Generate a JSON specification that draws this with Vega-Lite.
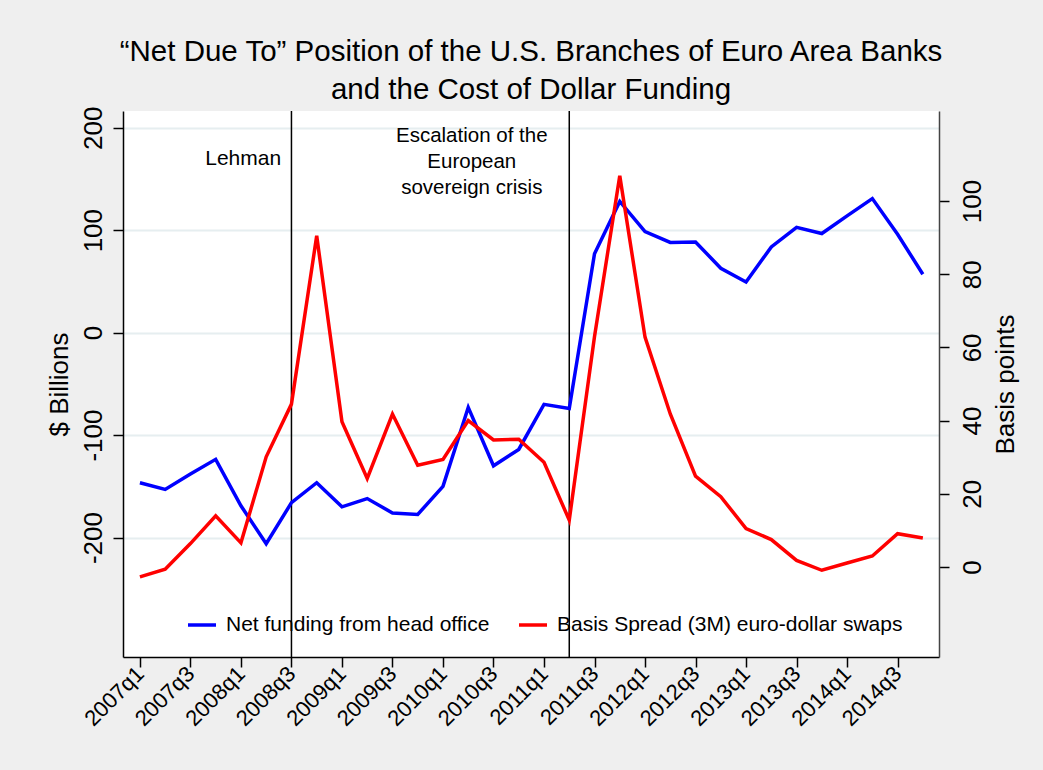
{
  "$schema": "https://vega.github.io/schema/vega-lite/v6.json",
  "autosize": {"type": "none"},
  "padding": {"left": 123, "top": 111, "right": 104, "bottom": 113},
  "width": 816,
  "height": 546,
  "background": "#efefef",
  "title": {
    "text": ["“Net Due To” Position of the U.S. Branches of Euro Area Banks", "and the Cost of Dollar Funding"],
    "anchor": "middle",
    "fontSize": 29.5,
    "fontWeight": "normal",
    "font": "Liberation Sans",
    "color": "#000000",
    "lineHeight": 38,
    "offset": 1
  },
  "config": {
    "view": {"fill": "#ffffff", "stroke": null},
    "font": "Liberation Sans",
    "axis": {
      "labelFont": "Liberation Sans",
      "titleFont": "Liberation Sans",
      "labelColor": "#000000",
      "titleColor": "#000000",
      "titleFontWeight": "normal",
      "tickColor": "#000000",
      "domainColor": "#000000",
      "tickSize": 10,
      "tickWidth": 1.5,
      "domainWidth": 1.5
    },
    "legend": {"labelFont": "Liberation Sans"}
  },
  "datasets": {
    "series": [
      {"quarter": "2007q1", "t": 0, "net": -146.5, "bp": -2.7},
      {"quarter": "2007q2", "t": 1, "net": -153, "bp": -0.6},
      {"quarter": "2007q3", "t": 2, "net": -138, "bp": 6.4},
      {"quarter": "2007q4", "t": 3, "net": -123.7, "bp": 14},
      {"quarter": "2008q1", "t": 4, "net": -169, "bp": 6.6},
      {"quarter": "2008q2", "t": 5, "net": -206, "bp": 30.1},
      {"quarter": "2008q3", "t": 6, "net": -166, "bp": 44.5},
      {"quarter": "2008q4", "t": 7, "net": -146.5, "bp": 90.5},
      {"quarter": "2009q1", "t": 8, "net": -170, "bp": 39.7},
      {"quarter": "2009q2", "t": 9, "net": -162, "bp": 24.2},
      {"quarter": "2009q3", "t": 10, "net": -176, "bp": 41.8},
      {"quarter": "2009q4", "t": 11, "net": -177.5, "bp": 27.8},
      {"quarter": "2010q1", "t": 12, "net": -150, "bp": 29.4},
      {"quarter": "2010q2", "t": 13, "net": -73, "bp": 40},
      {"quarter": "2010q3", "t": 14, "net": -130, "bp": 34.7},
      {"quarter": "2010q4", "t": 15, "net": -114, "bp": 34.9},
      {"quarter": "2011q1", "t": 16, "net": -70, "bp": 28.6},
      {"quarter": "2011q2", "t": 17, "net": -74, "bp": 12.8},
      {"quarter": "2011q3", "t": 18, "net": 77, "bp": 63},
      {"quarter": "2011q4", "t": 19, "net": 128, "bp": 106.9},
      {"quarter": "2012q1", "t": 20, "net": 98.6, "bp": 62.8},
      {"quarter": "2012q2", "t": 21, "net": 88, "bp": 41.8},
      {"quarter": "2012q3", "t": 22, "net": 88.5, "bp": 24.8},
      {"quarter": "2012q4", "t": 23, "net": 62.8, "bp": 19.2},
      {"quarter": "2013q1", "t": 24, "net": 49.4, "bp": 10.5},
      {"quarter": "2013q2", "t": 25, "net": 83.6, "bp": 7.5},
      {"quarter": "2013q3", "t": 26, "net": 102.8, "bp": 1.8},
      {"quarter": "2013q4", "t": 27, "net": 96.7, "bp": -0.9},
      {"quarter": "2014q1", "t": 28, "net": 113.9, "bp": 1.1},
      {"quarter": "2014q2", "t": 29, "net": 130.8, "bp": 3},
      {"quarter": "2014q3", "t": 30, "net": 96, "bp": 9.1},
      {"quarter": "2014q4", "t": 31, "net": 57, "bp": 7.9}
    ],
    "events": [
      {"quarter": "2008q3", "t": 6},
      {"quarter": "2011q2", "t": 17}
    ],
    "notes": [
      {"t": 5.59, "net": 163.4, "label": ["Lehman"], "align": "right"},
      {"t": 13.14, "net": 185.8, "label": ["Escalation of the", "European", "sovereign crisis"], "align": "center"}
    ]
  },
  "layer": [
    {
      "layer": [
        {
          "data": {"name": "events"},
          "mark": {"type": "rule", "color": "#000000", "strokeWidth": 1.5},
          "encoding": {
            "x": {"field": "t", "type": "quantitative", "scale": {"domain": [-0.67, 31.64], "nice": false, "zero": false}}
          }
        },
        {
          "data": {"name": "notes"},
          "transform": [{"filter": "datum.align == 'right'"}],
          "mark": {"type": "text", "align": "right", "baseline": "alphabetic", "fontSize": 21, "font": "Liberation Sans", "color": "#000000"},
          "encoding": {
            "x": {"field": "t", "type": "quantitative", "scale": {"domain": [-0.67, 31.64], "nice": false, "zero": false}},
            "y": {"field": "net", "type": "quantitative", "scale": {"domain": [-316.6, 216.3], "nice": false, "zero": false}, "title": "$ Billions"},
            "text": {"field": "label"}
          }
        },
        {
          "data": {"name": "notes"},
          "transform": [{"filter": "datum.align == 'center'"}],
          "mark": {"type": "text", "align": "center", "baseline": "alphabetic", "fontSize": 20.5, "lineHeight": 26, "font": "Liberation Sans", "color": "#000000"},
          "encoding": {
            "x": {"field": "t", "type": "quantitative", "scale": {"domain": [-0.67, 31.64], "nice": false, "zero": false}},
            "y": {"field": "net", "type": "quantitative", "scale": {"domain": [-316.6, 216.3], "nice": false, "zero": false}, "title": "$ Billions"},
            "text": {"field": "label"}
          }
        },
        {
          "data": {"name": "series"},
          "mark": {"type": "line", "strokeWidth": 3.5},
          "encoding": {
            "x": {
              "field": "t", "type": "quantitative",
              "scale": {"domain": [-0.67, 31.64], "nice": false, "zero": false},
              "axis": {
                "title": null,
                "values": [0, 2, 4, 6, 8, 10, 12, 14, 16, 18, 20, 22, 24, 26, 28, 30],
                "labelExpr": "toString(2007 + floor(datum.value / 4)) + 'q' + toString(datum.value % 4 + 1)",
                "labelAngle": -45,
                "labelAlign": "right",
                "labelBaseline": "middle",
                "labelFontSize": 22,
                "labelPadding": 3,
                "grid": false,
                "labelOverlap": false
              }
            },
            "y": {
              "field": "net", "type": "quantitative",
              "scale": {"domain": [-316.6, 216.3], "nice": false, "zero": false},
              "axis": {
                "title": "$ Billions",
                "orient": "left",
                "values": [-200, -100, 0, 100, 200],
                "labelExpr": "toString(datum.value)",
                "labelAngle": 270,
                "labelAlign": "center",
                "labelBaseline": "bottom",
                "labelFontSize": 26,
                "labelPadding": 7,
                "titleFontSize": 26,
                "titlePadding": 8,
                "grid": true,
                "gridColor": "#e6eef0",
                "gridWidth": 2,
                "labelOverlap": false
              }
            },
            "color": {
              "datum": "Net funding from head office",
              "type": "nominal",
              "scale": {"domain": ["Net funding from head office", "Basis Spread (3M) euro-dollar swaps"], "range": ["#0000ff", "#ff0000"]},
              "legend": {
                "title": null,
                "orient": "none",
                "legendX": 63,
                "legendY": 498,
                "direction": "horizontal",
                "labelFontSize": 21,
                "labelColor": "#000000",
                "symbolType": "stroke",
                "symbolSize": 784,
                "symbolStrokeWidth": 3.5,
                "labelOffset": 8,
                "columnPadding": 22,
                "labelLimit": 500
              }
            }
          }
        }
      ]
    },
    {
      "data": {"name": "series"},
      "mark": {"type": "line", "strokeWidth": 3.5},
      "encoding": {
        "x": {"field": "t", "type": "quantitative", "scale": {"domain": [-0.67, 31.64], "nice": false, "zero": false}},
        "y": {
          "field": "bp", "type": "quantitative",
          "scale": {"domain": [-24.6, 124.6], "nice": false, "zero": false},
          "axis": {
            "title": "Basis points",
            "orient": "right",
            "values": [0, 20, 40, 60, 80, 100],
            "labelAngle": 270,
            "labelAlign": "center",
            "labelBaseline": "top",
            "labelFontSize": 26,
            "labelPadding": 10,
            "titleFontSize": 26,
            "titleAngle": 270,
            "titlePadding": 33,
            "grid": false,
            "domainColor": "#444444",
            "labelOverlap": false
          }
        },
        "color": {
          "datum": "Basis Spread (3M) euro-dollar swaps",
          "type": "nominal",
          "scale": {"domain": ["Net funding from head office", "Basis Spread (3M) euro-dollar swaps"], "range": ["#0000ff", "#ff0000"]},
          "legend": {
            "title": null,
            "orient": "none",
            "legendX": 63,
            "legendY": 498,
            "direction": "horizontal",
            "labelFontSize": 21,
            "labelColor": "#000000",
            "symbolType": "stroke",
            "symbolSize": 784,
            "symbolStrokeWidth": 3.5,
            "labelOffset": 8,
            "columnPadding": 22,
            "labelLimit": 500
          }
        }
      }
    }
  ],
  "resolve": {"scale": {"y": "independent"}, "axis": {"y": "independent"}}
}
